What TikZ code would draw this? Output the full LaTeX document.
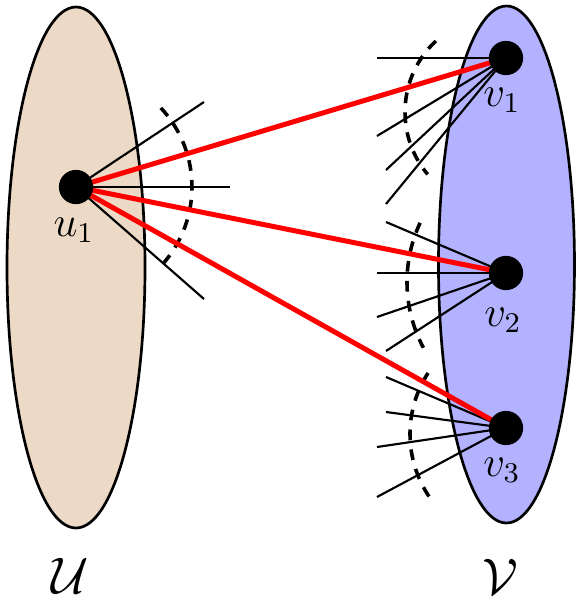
\documentclass[tikz,border=0pt]{standalone}
\usepackage{amssymb}
\begin{document}
\begin{tikzpicture}[x=0.28pt,y=0.28pt,
  setL/.style={draw=black,line width=0.75pt,fill=brown!30},
  setR/.style={draw=black,line width=0.75pt,fill=blue!30},
  vtx/.style={circle,fill=black,inner sep=0pt,minimum size=9.6pt},
  edge/.style={draw=black,line width=0.6pt},
  redge/.style={draw=red,line width=1.4pt},
  cut/.style={draw=black,line width=1pt,dash pattern=on 3pt off 2.6pt},
  lbl/.style={inner sep=0pt,font=\large},
  setlbl/.style={inner sep=0pt,font=\Large}]
\useasboundingbox (0,0) rectangle (582,605);
% sets
\path[setL] (76,337.5) ellipse [x radius=69, y radius=260.5];
\path[setR] (506.5,340.5) ellipse [x radius=68, y radius=258.5];
% vertex positions
\coordinate (pu1) at (76,418);
\coordinate (pv1) at (506,547);
\coordinate (pv2) at (506,332);
\coordinate (pv3) at (506,177);
% free ends
\coordinate (a1) at (204,503);
\coordinate (a2) at (230,418);
\coordinate (a3) at (204,306);
\coordinate (b1) at (377,547);
\coordinate (b2) at (377,469);
\coordinate (b3) at (386,435);
\coordinate (b4) at (386,401);
\coordinate (c1) at (386,383);
\coordinate (c2) at (377,332);
\coordinate (c3) at (377,288);
\coordinate (c4) at (386,254);
\coordinate (d1) at (386,228);
\coordinate (d2) at (386,193);
\coordinate (d3) at (377,158);
\coordinate (d4) at (377,108);
% arc centers
\coordinate (kv1) at (502,493);
\coordinate (kv2) at (547,323);
\coordinate (kv3) at (522,171);
% black edges
\foreach \e in {a1,a2,a3} \draw[edge] (pu1) -- (\e);
\foreach \e in {b1,b2,b3,b4} \draw[edge] (pv1) -- (\e);
\foreach \e in {c1,c2,c3,c4} \draw[edge] (pv2) -- (\e);
\foreach \e in {d1,d2,d3,d4} \draw[edge] (pv3) -- (\e);
% dashed cuts
\draw[cut] ([shift={(43:116)}]pu1) arc[start angle=43, end angle=-45, radius=116];
\draw[cut] ([shift={(133:97)}]kv1) arc[start angle=133, end angle=220, radius=97];
\draw[cut] ([shift={(155:140)}]kv2) arc[start angle=155, end angle=208, radius=140];
\draw[cut] ([shift={(147:112)}]kv3) arc[start angle=147, end angle=214, radius=112];
% red edges
\foreach \v in {pv1,pv2,pv3} \draw[redge] (pu1) -- (\v);
% vertices
\node[vtx] (u1) at (pu1) {};
\node[vtx] (v1) at (pv1) {};
\node[vtx] (v2) at (pv2) {};
\node[vtx] (v3) at (pv3) {};
% labels
\node[lbl] (lu1) at (74,375) {$u_1$};
\node[lbl] (lv1) at (502,505) {$v_1$};
\node[lbl] (lv2) at (503,285) {$v_2$};
\node[lbl] (lv3) at (502,135) {$v_3$};
\node[setlbl] (lU) at (70,29) {$\mathcal{U}$};
\node[setlbl] (lV) at (500,28) {$\mathcal{V}$};
\end{tikzpicture}
\end{document}
